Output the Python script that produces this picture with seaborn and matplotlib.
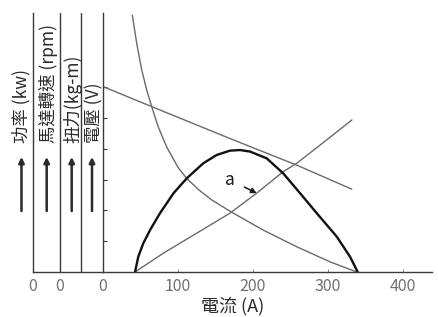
import matplotlib
matplotlib.use("Agg")
import matplotlib.pyplot as plt
import seaborn as sns

# ---- data (current in A, values in common relative units) ----
power_current = [42.7, 47.1, 53.7, 62.7, 76.0, 94.1, 111.6, 133.7, 151.6, 169.3, 182.7, 196, 218.3, 240.4, 262.7, 285, 311.6, 329.3, 339.6]
power_value = [0.0, 0.50, 0.93, 1.36, 1.91, 2.56, 3.04, 3.53, 3.80, 3.94, 3.96, 3.91, 3.69, 3.20, 2.56, 1.91, 1.15, 0.50, 0.0]

speed_current = [39.1, 44.9, 51.6, 58.3, 64.9, 73.7, 84.9, 100.4, 111.6, 127.1, 144.9, 171.6, 213.7, 258.3, 302.7, 338.3]
speed_value = [8.34, 7.43, 6.56, 5.91, 5.37, 4.71, 4.06, 3.38, 3.04, 2.68, 2.34, 1.94, 1.36, 0.82, 0.33, 0.0]

torque_current = [42.7, 80.4, 124.9, 169.3, 204.9, 240.4, 258.3, 298.3, 332]
torque_value = [0.0, 0.61, 1.26, 1.91, 2.56, 3.26, 3.53, 4.29, 4.94]

voltage_current = [0, 64.9, 173.7, 258.3, 331.6]
voltage_value = [6.02, 5.37, 4.29, 3.47, 2.69]

x_ticks = [0, 100, 200, 300, 400]
x_tick_labels = ["0", "100", "200", "300", "400"]
side_axis_pos = [-93.3, -57.3, -29.3]
side_zero_labels = ["0", "0"]
y_labels = ["功率 (kw)", "馬達轉速 (rpm)", "扭力(kg-m)", "電壓 (V)"]
x_label = "電流 (A)"
annot_text = "a"

sns.set_theme(style="white")
plt.rcParams["font.family"] = ["Noto Sans CJK TC", "DejaVu Sans"]

W, H = 438, 317
fig = plt.figure(figsize=(W / 100, H / 100), dpi=100)
fig.patch.set_facecolor("white")

ax_l, ax_r, ax_b, ax_t = 103, 432, 272, 13
left0 = 33
ax = fig.add_axes([ax_l / W, (H - ax_b) / H, (ax_r - ax_l) / W, (ax_b - ax_t) / H])
ax0 = fig.add_axes([left0 / W, (H - ax_b) / H, (ax_l - left0) / W, (ax_b - ax_t) / H])

line_gray = "#6a6a6a"
axis_col = "#3a3a3a"

sns.lineplot(x=voltage_current, y=voltage_value, ax=ax, color=line_gray, lw=1.0, estimator=None, sort=False)
sns.lineplot(x=torque_current, y=torque_value, ax=ax, color=line_gray, lw=1.0, estimator=None, sort=False)
sns.lineplot(x=speed_current, y=speed_value, ax=ax, color=line_gray, lw=1.0, estimator=None, sort=False)
sns.lineplot(x=power_current, y=power_value, ax=ax, color="#111111", lw=1.7, estimator=None, sort=False)

ymax = (ax_b - ax_t) / 30.8
ax.set_xlim(0, (ax_r - ax_l) / 0.75)
ax.set_ylim(0, ymax)
ax0.set_xlim(side_axis_pos[0], 0)
ax0.set_ylim(0, ymax)

for a in (ax, ax0):
    a.set_facecolor("none")
    for s in ("top", "right"):
        a.spines[s].set_visible(False)
    for s in ("left", "bottom"):
        a.spines[s].set_color(axis_col)
        a.spines[s].set_linewidth(1.0)

ax.set_yticks([1, 2, 3, 4, 5, 6])
ax.set_yticklabels([])
ax.tick_params(axis="y", direction="in", length=3, width=0.8, color=axis_col, left=True)
ax.set_xticks(x_ticks)
ax.set_xticklabels(x_tick_labels)
ax.tick_params(axis="x", direction="in", length=2.5, width=0.7, color="#888888", pad=4,
               labelsize=11.5, labelcolor="#707070", bottom=True)

ax0.set_yticks([])
ax0.set_xticks(side_axis_pos[:2])
ax0.set_xticklabels(side_zero_labels)
ax0.tick_params(axis="x", length=0, pad=4, labelsize=11.5, labelcolor="#707070")
for xv in side_axis_pos[1:]:
    ax0.axvline(xv, color=axis_col, lw=1.0)

ax.set_xlabel(x_label, fontsize=13, color="#2a2a2a", va="center")
ax.xaxis.set_label_coords((233 - ax_l) / (ax_r - ax_l), (ax_b - 306) / (ax_b - ax_t))

ax.annotate(annot_text, xy=(204.9, 2.56), xytext=(169.3, 2.99), fontsize=12.5, color="#1a1a1a",
            ha="center", va="center",
            arrowprops=dict(arrowstyle="-|>", color="#1a1a1a", lw=1.1, mutation_scale=8,
                            shrinkA=5, shrinkB=0))

label_x = [21.7, 48.0, 73.0, 94.5]
arrow_x = [21.5, 46.7, 71.7, 92.0]
for lx, axx, txt in zip(label_x, arrow_x, y_labels):
    fig.text(lx / W, (H - 143) / H, txt, rotation=90, ha="center", va="bottom",
             fontsize=12.5, color="#2a2a2a")
    ax0.annotate("", xy=(axx / W, (H - 157) / H), xytext=(axx / W, (H - 211) / H),
                 xycoords="figure fraction", textcoords="figure fraction",
                 arrowprops=dict(arrowstyle="-|>", color="#2a2a2a", lw=1.8, mutation_scale=8,
                                 shrinkA=0, shrinkB=0))

fig.savefig("out.png", dpi=100)
